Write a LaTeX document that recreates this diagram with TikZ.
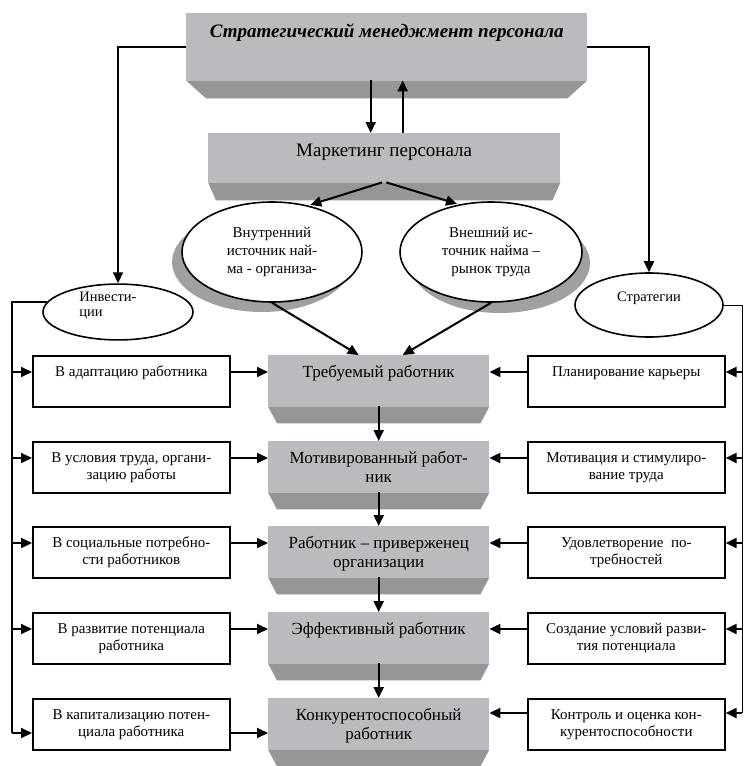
\documentclass[tikz,border=0pt]{standalone}
\usepackage{fontspec}
\setmainfont{Liberation Serif}
\usetikzlibrary{shapes.geometric,arrows.meta}
\definecolor{facegray}{RGB}{186,187,190}
\definecolor{bevelgray}{RGB}{150,150,153}
\definecolor{shadowgray}{RGB}{160,160,160}
\newcommand{\facetext}[4]{\begin{minipage}[t][#2][t]{#1}\centering\rule{0pt}{#3}#4\end{minipage}}
\newcommand{\bevel}[3]{\fill[bevelgray] (#1.south west) -- (#1.south east) -- ([xshift=-#2pt,yshift=-#3pt]#1.south east) -- ([xshift=#2pt,yshift=-#3pt]#1.south west) -- cycle;}
\tikzset{
  facebox/.style={fill=facegray, inner sep=0pt, anchor=north west, font=\fontsize{17}{19}\selectfont},
  sidebox/.style={draw, line width=1.6pt, fill=white, inner sep=0pt, anchor=north west, font=\fontsize{15}{17}\selectfont},
  oval/.style={draw, ellipse, line width=1.6pt, fill=white, inner sep=0pt, align=center, font=\fontsize{15}{18}\selectfont},
  arr/.style={line width=2pt, -{Triangle[length=11pt,width=10pt]}},
  link/.style={line width=1.4pt},
}
\begin{document}
\begin{tikzpicture}[x=1pt,y=-1pt]
\useasboundingbox (0,0) rectangle (744,766);

% shadows of the two source ellipses
\fill[shadowgray] (262,262) ellipse [x radius=90pt, y radius=50pt];
\fill[shadowgray] (500,263) ellipse [x radius=90pt, y radius=50pt];

% top blocks
\node[facebox, font=\fontsize{19}{22}\selectfont] (mgmt) at (186,13)
  {\facetext{401pt}{67pt}{24pt}{\bfseries\itshape Стратегический менеджмент персонала}};
\bevel{mgmt}{20}{18}
\node[facebox, font=\fontsize{19}{22}\selectfont] (mkt) at (208,133)
  {\facetext{352pt}{49pt}{23pt}{Маркетинг персонала}};
\bevel{mkt}{8}{18}

% ellipses
\node[oval, minimum width=180pt, minimum height=100pt] (srcin) at (272,252) {Внутренний\\источник най-\\ма - организа-};
\node[oval, minimum width=182pt, minimum height=100pt] (srcout) at (491,252) {Внешний ис-\\точник найма –\\рынок труда};
\node[oval, minimum width=150pt, minimum height=52pt, align=left, font=\fontsize{14.5}{15}\selectfont] (invest) at (118,312) {Инвести-\hspace*{20pt}\\ции\\[0pt]};
\node[oval, minimum width=148pt, minimum height=64pt, font=\fontsize{14.5}{18}\selectfont] (strat) at (649,305) {Стратегии\\[-2pt]};

% central column
\node[facebox] (c1) at (268,355) {\facetext{221pt}{51pt}{22pt}{Требуемый работник}};
\bevel{c1}{9}{17}
\node[facebox] (c2) at (268,441) {\facetext{221pt}{51pt}{22pt}{Мотивированный работ-\\ник}};
\bevel{c2}{9}{17}
\node[facebox] (c3) at (268,526) {\facetext{221pt}{51pt}{22pt}{Работник – приверженец\\организации}};
\bevel{c3}{9}{17}
\node[facebox] (c4) at (268,612) {\facetext{221pt}{51pt}{22pt}{Эффективный работник}};
\bevel{c4}{9}{17}
\node[facebox] (c5) at (268,698) {\facetext{221pt}{51pt}{22pt}{Конкурентоспособный\\работник}};
\bevel{c5}{9}{17}

% left column
\node[sidebox] (l1) at (32,355) {\facetext{197pt}{51pt}{21pt}{В адаптацию работника}};
\node[sidebox] (l2) at (32,441) {\facetext{197pt}{51pt}{21pt}{В условия труда, органи-\\зацию работы}};
\node[sidebox] (l3) at (32,526) {\facetext{197pt}{51pt}{21pt}{В социальные потребно-\\сти работников}};
\node[sidebox] (l4) at (32,612) {\facetext{197pt}{51pt}{21pt}{В развитие потенциала\\работника}};
\node[sidebox] (l5) at (32,698) {\facetext{197pt}{51pt}{21pt}{В капитализацию потен-\\циала работника}};

% right column
\node[sidebox] (r1) at (527,355) {\facetext{197pt}{51pt}{21pt}{Планирование карьеры}};
\node[sidebox] (r2) at (527,441) {\facetext{197pt}{51pt}{21pt}{Мотивация и стимулиро-\\вание труда}};
\node[sidebox] (r3) at (527,526) {\facetext{197pt}{51pt}{21pt}{Удовлетворение \ по-\\требностей}};
\node[sidebox] (r4) at (527,612) {\facetext{197pt}{51pt}{21pt}{Создание условий разви-\\тия потенциала}};
\node[sidebox] (r5) at (527,698) {\facetext{197pt}{51pt}{21pt}{Контроль и оценка кон-\\курентоспособности}};

% row levels of the arrows
\coordinate (lp1) at ([yshift=-17pt]l1.north west);
\coordinate (lp2) at ([yshift=-17pt]l2.north west);
\coordinate (lp3) at ([yshift=-17pt]l3.north west);
\coordinate (lp4) at ([yshift=-17pt]l4.north west);
\coordinate (lp5) at ([yshift=-35pt]l5.north west);
\coordinate (rp1) at ([yshift=-17pt]r1.north east);
\coordinate (rp2) at ([yshift=-17pt]r2.north east);
\coordinate (rp3) at ([yshift=-17pt]r3.north east);
\coordinate (rp4) at ([yshift=-17pt]r4.north east);
\coordinate (rp5) at ([yshift=-15pt]r5.north east);
\coordinate (lbus) at (12,733);
\coordinate (rbus) at (742,713);
\coordinate (dn) at ([xshift=-16pt]mgmt.south);
\coordinate (up) at ([xshift=16pt]mgmt.south);

% top connections
\draw[arr] (dn) -- (dn |- mkt.north);
\draw[arr] (up |- mkt.north) -- (up);
\draw[arr] (mgmt.west) -| (invest.north);
\draw[arr] (mgmt.east) -| (strat.north);
\draw[arr, shorten >=2pt] ([xshift=-2pt]mkt.south) -- (srcin.52);
\draw[arr, shorten >=2pt] ([xshift=2pt]mkt.south) -- (srcout.124);
\draw[arr] (srcin.south) -- ([xshift=-20pt]c1.north);
\draw[arr] (srcout.south) -- ([xshift=24pt]c1.north);

% left bus
\draw[link] (invest.172) -| (lbus);
\draw[arr] (lbus |- lp1) -- (lp1);
\draw[arr] (lbus |- lp2) -- (lp2);
\draw[arr] (lbus |- lp3) -- (lp3);
\draw[arr] (lbus |- lp4) -- (lp4);
\draw[arr] (lbus) -- (lp5);
\draw[arr] (l1.east |- lp1) -- (c1.west |- lp1);
\draw[arr] (l2.east |- lp2) -- (c2.west |- lp2);
\draw[arr] (l3.east |- lp3) -- (c3.west |- lp3);
\draw[arr] (l4.east |- lp4) -- (c4.west |- lp4);
\draw[arr] (l5.east |- lp5) -- (c5.west |- lp5);

% right bus
\draw[line width=1pt] (strat.east) -| (rbus);
\draw[arr] (rbus |- rp1) -- (rp1);
\draw[arr] (rbus |- rp2) -- (rp2);
\draw[arr] (rbus |- rp3) -- (rp3);
\draw[arr] (rbus |- rp4) -- (rp4);
\draw[arr] (rbus) -- (rp5);
\draw[arr] (r1.west |- rp1) -- (c1.east |- rp1);
\draw[arr] (r2.west |- rp2) -- (c2.east |- rp2);
\draw[arr] (r3.west |- rp3) -- (c3.east |- rp3);
\draw[arr] (r4.west |- rp4) -- (c4.east |- rp4);
\draw[arr] (r5.west |- rp5) -- (c5.east |- rp5);

% central column
\draw[arr] (c1.south) -- (c2.north);
\draw[arr] (c2.south) -- (c3.north);
\draw[arr] (c3.south) -- (c4.north);
\draw[arr] (c4.south) -- (c5.north);
\end{tikzpicture}
\end{document}
